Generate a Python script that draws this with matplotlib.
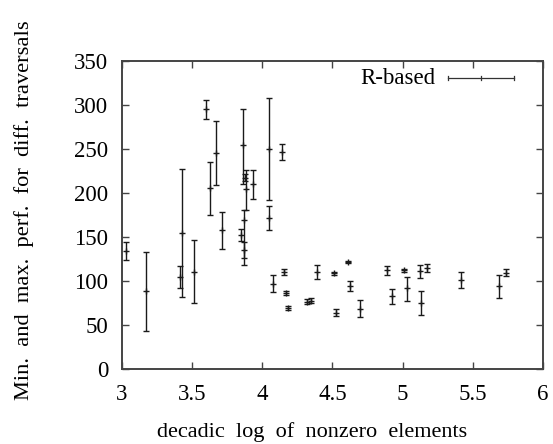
import matplotlib
matplotlib.use("Agg")
import matplotlib.pyplot as plt
from matplotlib.lines import Line2D

# decadic log of nonzero elements, measured performance (centre, min, max)
log_nnz = [3.03, 3.17, 3.415, 3.425, 3.515, 3.60, 3.63, 3.67, 3.715, 3.845,
           3.862, 3.875, 3.882, 3.872, 3.868, 3.936, 4.05, 4.05, 4.14, 4.078,
           4.152, 4.167, 4.18, 4.32, 4.347, 4.39, 4.513, 4.523, 4.613, 4.625,
           4.698, 4.886, 4.924, 5.012, 5.028, 5.12, 5.13, 5.17, 5.414, 5.687,
           5.735]
perf_mid = [134, 88, 105, 154, 110.5, 295, 205.5, 245, 158, 152.5,
            254, 217, 204, 169, 135, 209.5, 249.5, 171, 246, 97,
            110, 86, 69.5, 76.5, 77.5, 110.5, 108.5, 64, 121.5, 94.5,
            68.5, 112, 83, 112, 91.5, 111, 75, 115, 101.5, 94,
            109.5]
perf_min = [123.5, 43.5, 92.5, 82, 74.5, 283.5, 175, 208.5, 136, 145.5,
            210.5, 213, 181, 118, 125.5, 193, 191.5, 157.5, 237, 87,
            106.5, 84, 67, 73.5, 74.5, 102, 107, 60, 120.5, 89,
            58.5, 106.5, 73.5, 110.5, 77.5, 103.5, 61, 110.5, 91.5, 81,
            105.5]
perf_max = [144, 132.5, 117, 227, 146, 305.5, 235, 282, 178.5, 159.5,
            295.5, 221, 226, 181, 144, 226, 307.5, 185, 256, 107,
            113, 88, 72, 79.5, 80.5, 118, 110, 68, 122.5, 100,
            78, 117, 91, 113.5, 104.5, 118, 88.5, 119.5, 110.5, 107,
            113.5]

x_ticks = [3, 3.5, 4, 4.5, 5, 5.5, 6]
x_tick_labels = ["3", "3.5", "4", "4.5", "5", "5.5", "6"]
y_ticks = [0, 50, 100, 150, 200, 250, 300, 350]
series_label = "R-based"

plt.rcParams["font.family"] = ["Liberation Serif", "DejaVu Serif"]
plt.rcParams["font.size"] = 16

W, H = 553, 444
fig = plt.figure(figsize=(W / 100, H / 100), dpi=100)
ax = fig.add_axes([122 / W, 1 - 369 / H, (543 - 122) / W, (369 - 60.7) / H])

err_lo = [m - lo for m, lo in zip(perf_mid, perf_min)]
err_hi = [hi - m for m, hi in zip(perf_mid, perf_max)]
ax.errorbar(log_nnz, perf_mid, yerr=[err_lo, err_hi], fmt="+", color="#1a1a1a",
            ms=5, mew=1.0, elinewidth=1.0, capsize=2.2, capthick=1.0)

ax.set_xlim(3, 6)
ax.set_ylim(0, 350)
ax.set_xticks(x_ticks)
ax.set_xticklabels(x_tick_labels)
ax.set_yticks(y_ticks)
ax.tick_params(direction="in", length=5, width=1.0, color="#444444",
               top=True, right=True, labelsize=16.5)
ax.tick_params(axis="x", pad=11)
ax.tick_params(axis="y", pad=10)
for s in ax.spines.values():
    s.set_color("#444444")
    s.set_linewidth(1.4)

# key: label followed by a horizontal sample with end caps and a centre tick
ax.text(0.745, 0.943, series_label, transform=ax.transAxes, ha="right",
        va="center", fontsize=16.5)
kx0, kx1, ky = 0.775, 0.93, 0.943
ax.add_line(Line2D([kx0, kx1], [ky, ky], transform=ax.transAxes,
                   color="#333333", lw=0.9))
for kx in (kx0, kx1):
    ax.add_line(Line2D([kx, kx], [ky - 0.007, ky + 0.007],
                       transform=ax.transAxes, color="#333333", lw=0.9))
ax.add_line(Line2D([(kx0 + kx1) / 2] * 2, [ky - 0.007, ky + 0.007],
                   transform=ax.transAxes, color="#333333", lw=0.9))

fig.text(312 / W, 1 - 432 / H, "decadic  log  of  nonzero  elements",
         ha="center", va="center", fontsize=16)
fig.text(24 / W, 1 - 210 / H, "Min.  and  max.  perf.  for  diff.  traversals",
         ha="center", va="center", rotation=90, fontsize=16.2)

fig.savefig("out.png", dpi=100)
